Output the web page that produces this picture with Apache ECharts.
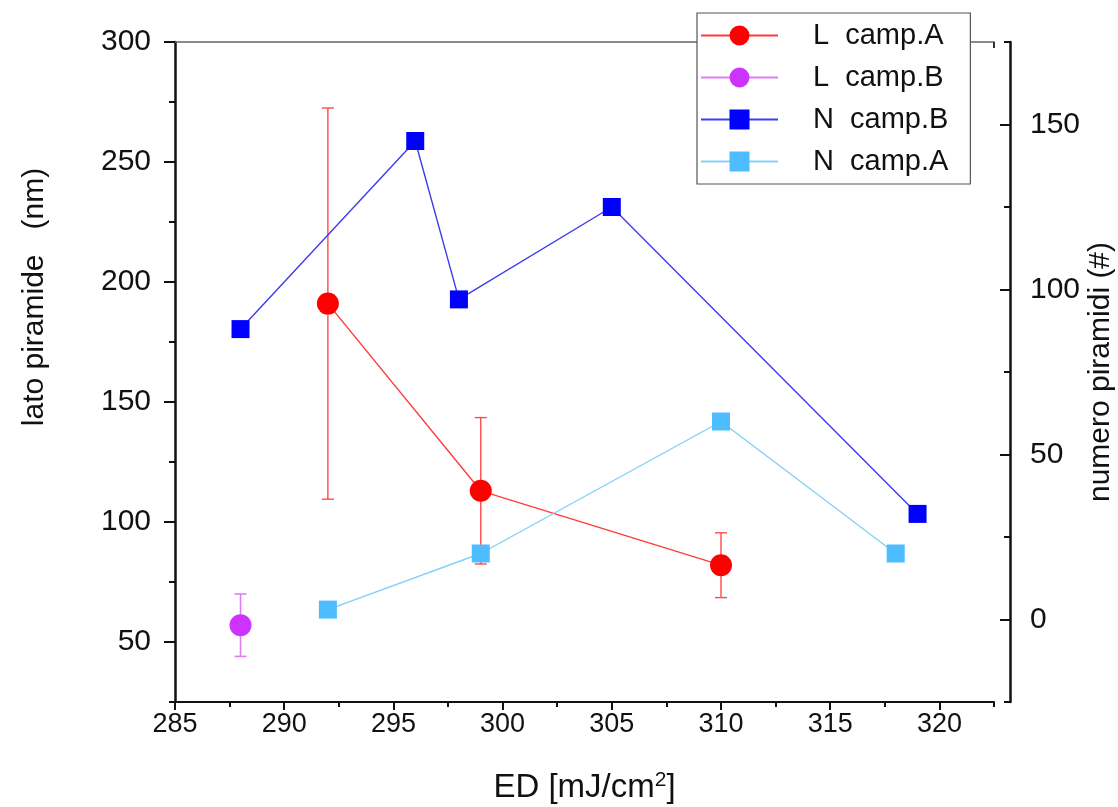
<!DOCTYPE html>
<html><head><meta charset="utf-8">
<script src="https://cdn.jsdelivr.net/npm/echarts@6/dist/echarts.min.js"></script>
<style>html,body{margin:0;padding:0;background:#fff}#c{width:1118px;height:807px}</style>
</head><body><div id="c"></div>
<script>
// ---- tick values ----
const xMajorTicks = [285, 290, 295, 300, 305, 310, 315, 320];
const xMinorTicks = [287.5, 292.5, 297.5, 302.5, 307.5, 312.5, 317.5, 322.5];
const leftMajorTicks = [50, 100, 150, 200, 250, 300];
const leftMinorTicks = [25, 75, 125, 175, 225, 275];
const rightMajorTicks = [0, 50, 100, 150];
const rightMinorTicks = [-25, 25, 75, 125, 175];

// ---- series data ----
const lCampA_x = [292, 299, 310];
const lCampA_y = [191, 113, 82];
const lCampA_err = [81.5, 30.5, 13.5];
const lCampB_x = [288];
const lCampB_y = [57];
const lCampB_err = [13];
const nCampB_x = [288, 296, 298, 305, 319];
const nCampB_y = [88, 145, 97, 125, 32];
const nCampA_x = [292, 299, 310, 318];
const nCampA_y = [3, 20, 60, 20];

const seriesNames = ['L  camp.A', 'L  camp.B', 'N  camp.B', 'N  camp.A'];

const FONT = 'Liberation Sans, Arial, sans-serif';
const AX = '#111';

function pairs(xs, ys) { return xs.map((x, i) => [x, ys[i]]); }
function triples(xs, ys, es) { return xs.map((x, i) => [x, ys[i], es[i]]); }

function errRender(color, capW, lw) {
  return function (params, api) {
    const x = api.value(0), y = api.value(1), e = api.value(2);
    const t = api.coord([x, y + e]);
    const b = api.coord([x, y - e]);
    const st = { stroke: color, lineWidth: lw };
    return {
      type: 'group',
      children: [
        { type: 'line', shape: { x1: t[0], y1: t[1], x2: b[0], y2: b[1] }, style: st },
        { type: 'line', shape: { x1: t[0] - capW / 2, y1: t[1], x2: t[0] + capW / 2, y2: t[1] }, style: st },
        { type: 'line', shape: { x1: b[0] - capW / 2, y1: b[1], x2: b[0] + capW / 2, y2: b[1] }, style: st }
      ]
    };
  };
}

const chart = echarts.init(document.getElementById('c'), null, { renderer: 'canvas' });

const option = {
  animation: false,
  backgroundColor: '#fff',
  textStyle: { fontFamily: FONT },
  grid: { left: 175, top: 42, right: 124, bottom: 105, containLabel: false, outerBoundsMode: 'none' },
  legend: {
    data: seriesNames,
    orient: 'vertical',
    left: 697,
    top: 13,
    padding: [8, 22, 8, 3],
    itemGap: 13,
    itemWidth: 77,
    itemHeight: 25,
    backgroundColor: '#fff',
    borderColor: '#555',
    borderWidth: 1.2,
    borderRadius: 0,
    z: 10,
    textStyle: { fontSize: 29, color: '#111', fontFamily: FONT, lineHeight: 29, padding: [0, 0, 0, 30] }
  },
  xAxis: [
    {
      type: 'value', min: 285, max: 322.5, position: 'bottom',
      axisLine: { show: true, onZero: false, lineStyle: { color: AX, width: 2 } },
      axisTick: { show: true, customValues: xMajorTicks, length: 8, lineStyle: { color: AX, width: 2 } },
      axisLabel: { show: true, customValues: xMajorTicks, fontSize: 27, color: AX, margin: 9, fontFamily: FONT },
      splitLine: { show: false },
      name: 'ED [mJ/cm{sup|2}]',
      nameLocation: 'middle',
      nameGap: 68,
      nameTextStyle: {
        fontSize: 33, color: AX, fontFamily: FONT,
        rich: { sup: { fontSize: 21, verticalAlign: 'top', padding: [0, 0, 15, 0], fontFamily: FONT, color: AX } }
      }
    },
    {
      type: 'value', min: 285, max: 322.5, position: 'bottom',
      axisLine: { show: false, onZero: false },
      axisTick: { show: true, customValues: xMinorTicks, length: 5, lineStyle: { color: AX, width: 2 } },
      axisLabel: { show: false },
      splitLine: { show: false }
    },
    {
      type: 'value', min: 285, max: 322.5, position: 'top',
      axisLine: { show: true, onZero: false, lineStyle: { color: '#666', width: 1.5 } },
      axisTick: { show: true, inside: true, customValues: [322.5], length: 6, lineStyle: { color: '#333', width: 2 } },
      axisLabel: { show: false },
      splitLine: { show: false }
    }
  ],
  yAxis: [
    {
      type: 'value', min: 25, max: 300, position: 'left',
      axisLine: { show: true, onZero: false, lineStyle: { color: AX, width: 2.5 } },
      axisTick: { show: true, customValues: leftMajorTicks, length: 11, lineStyle: { color: AX, width: 2 } },
      axisLabel: { show: true, customValues: leftMajorTicks, fontSize: 30, color: AX, margin: 24, fontFamily: FONT },
      splitLine: { show: false },
      name: 'lato piramide   (nm)',
      nameLocation: 'middle',
      nameRotate: 90,
      nameGap: 125,
      nameMoveOverlap: false,
      nameTextStyle: { fontSize: 30, color: AX, fontFamily: FONT, padding: [0, 0, 0, 150] }
    },
    {
      type: 'value', min: 25, max: 300, position: 'left',
      axisLine: { show: false, onZero: false },
      axisTick: { show: true, customValues: leftMinorTicks, length: 6, lineStyle: { color: AX, width: 2 } },
      axisLabel: { show: false },
      splitLine: { show: false }
    },
    {
      type: 'value', min: -25, max: 175, position: 'right', offset: 16,
      axisLine: { show: true, onZero: false, lineStyle: { color: AX, width: 2.5 } },
      axisTick: { show: true, inside: true, customValues: rightMajorTicks, length: 10, lineStyle: { color: AX, width: 2 } },
      axisLabel: { show: true, customValues: rightMajorTicks, fontSize: 30, color: AX, margin: 20, fontFamily: FONT },
      splitLine: { show: false },
      name: 'numero piramidi (#)',
      nameLocation: 'middle',
      nameRotate: 90,
      nameGap: 76,
      nameMoveOverlap: false,
      nameTextStyle: { fontSize: 30, color: AX, fontFamily: FONT }
    },
    {
      type: 'value', min: -25, max: 175, position: 'right', offset: 16,
      axisLine: { show: false, onZero: false },
      axisTick: { show: true, inside: true, customValues: rightMinorTicks, length: 6, lineStyle: { color: AX, width: 2 } },
      axisLabel: { show: false },
      splitLine: { show: false }
    }
  ],
  series: [
    {
      name: 'err L camp.A', type: 'custom', xAxisIndex: 0, yAxisIndex: 0, z: 1,
      renderItem: errRender('#ff4a4a', 12, 1.4),
      encode: { x: 0, y: 1 },
      data: triples(lCampA_x, lCampA_y, lCampA_err)
    },
    {
      name: 'err L camp.B', type: 'custom', xAxisIndex: 0, yAxisIndex: 0, z: 1,
      renderItem: errRender('#e07cf7', 12, 1.6),
      encode: { x: 0, y: 1 },
      data: triples(lCampB_x, lCampB_y, lCampB_err)
    },
    {
      name: seriesNames[0], type: 'line', xAxisIndex: 0, yAxisIndex: 0, z: 3,
      data: pairs(lCampA_x, lCampA_y),
      symbol: 'circle', symbolSize: 22,
      itemStyle: { color: '#ff0000' },
      lineStyle: { color: '#ff3b3b', width: 1.4 }
    },
    {
      name: seriesNames[1], type: 'line', xAxisIndex: 0, yAxisIndex: 0, z: 3,
      data: pairs(lCampB_x, lCampB_y),
      symbol: 'circle', symbolSize: 22,
      itemStyle: { color: '#cc33ff' },
      lineStyle: { color: '#e27bf5', width: 1.6 }
    },
    {
      name: seriesNames[2], type: 'line', xAxisIndex: 0, yAxisIndex: 2, z: 3,
      data: pairs(nCampB_x, nCampB_y),
      symbol: 'rect', symbolSize: 18,
      itemStyle: { color: '#0000ff' },
      lineStyle: { color: '#3c3cf0', width: 1.4 }
    },
    {
      name: seriesNames[3], type: 'line', xAxisIndex: 0, yAxisIndex: 2, z: 3,
      data: pairs(nCampA_x, nCampA_y),
      symbol: 'rect', symbolSize: 18,
      itemStyle: { color: '#4dbdff' },
      lineStyle: { color: '#85d0f7', width: 1.4 }
    }
  ]
};
chart.setOption(option);
</script>
</body></html>
